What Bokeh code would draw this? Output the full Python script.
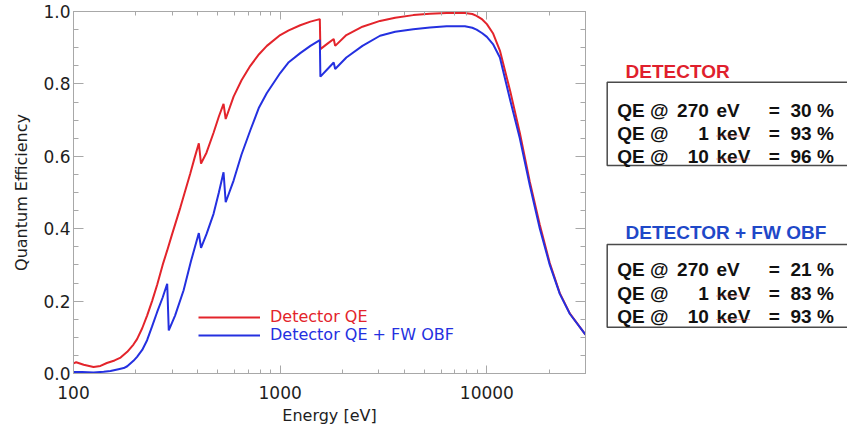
from bokeh.plotting import figure
from bokeh.models import (Range1d, LogAxis, LinearAxis, LogTicker, SingleIntervalTicker,
                          Legend, LegendItem, PrintfTickFormatter, CustomJSTickFormatter)
from bokeh.layouts import row
from bokeh.embed import file_html
from bokeh.resources import INLINE
from bokeh.core.properties import value

# ---------------- data ----------------
energy_det = [100, 103, 112, 125, 135, 145, 158, 169, 182, 195, 203, 215, 227, 240, 254,
              270, 284, 300, 329, 367, 385, 404, 414, 440, 476, 505, 532, 545, 595, 650, 717,
              790, 862, 1000, 1100, 1250, 1400, 1555, 1565, 1700, 1815, 1845, 2090, 2500,
              3041, 3600, 4405, 5300, 6385, 7830, 8500, 8916, 9500, 10000, 10700, 11560,
              12970, 14430, 16130, 18040, 20150, 22530, 25180, 29740, 30000]
qe_det = [0.028, 0.031, 0.024, 0.018, 0.021, 0.029, 0.036, 0.044, 0.060, 0.080, 0.095, 0.125,
          0.160, 0.200, 0.245, 0.300, 0.340, 0.385, 0.459, 0.552, 0.595, 0.636, 0.580, 0.610,
          0.665, 0.710, 0.745, 0.703, 0.765, 0.810, 0.850, 0.882, 0.905, 0.935, 0.948, 0.962,
          0.972, 0.979, 0.896, 0.912, 0.924, 0.905, 0.935, 0.958, 0.974, 0.983, 0.990, 0.994,
          0.996, 0.996, 0.993, 0.988, 0.978, 0.965, 0.940, 0.892, 0.780, 0.665, 0.530, 0.410,
          0.305, 0.222, 0.166, 0.110, 0.108]

energy_obf = [100, 110, 125, 140, 151, 165, 175, 182, 195, 203, 215, 227, 240, 254, 270, 284,
              289, 310, 341, 370, 404, 414, 440, 476, 505, 532, 545, 595, 650, 717, 790, 862,
              1000, 1100, 1250, 1400, 1555, 1565, 1700, 1815, 1845, 2090, 2500, 3041, 3600,
              4405, 5300, 6385, 7830, 8500, 8916, 9500, 10000, 10700, 11560, 12970, 14430,
              16130, 18040, 20150, 22530, 25180, 29740, 30000]
qe_obf = [0.004, 0.004, 0.003, 0.005, 0.007, 0.012, 0.015, 0.020, 0.035, 0.046, 0.065, 0.092,
          0.130, 0.170, 0.210, 0.248, 0.119, 0.160, 0.230, 0.310, 0.388, 0.347, 0.385, 0.441,
          0.500, 0.556, 0.473, 0.533, 0.605, 0.672, 0.735, 0.775, 0.830, 0.860, 0.885, 0.905,
          0.921, 0.820, 0.842, 0.859, 0.841, 0.873, 0.905, 0.933, 0.944, 0.951, 0.956, 0.959,
          0.959, 0.955, 0.950, 0.940, 0.930, 0.910, 0.873, 0.755, 0.650, 0.520, 0.400, 0.300,
          0.220, 0.165, 0.110, 0.108]

series_labels = ["Detector QE", "Detector QE + FW OBF"]

table_titles = ["DETECTOR", "DETECTOR + FW OBF"]
row_values = ["270", "1", "10"]
row_units = ["eV", "keV", "keV"]
pct_detector = ["30 %", "93 %", "96 %"]
pct_obf = ["21 %", "83 %", "93 %"]

RED = "#e3242b"
BLUE = "#2430e0"
TITLE_RED = "#e01f2d"
TITLE_BLUE = "#1f48c8"
AXIS_GRAY = "#a8a8a8"
TEXT_DARK = "#1e1e1e"

BORDER_TOP, BORDER_BOTTOM = 11, 54
TOTAL_H = 427

# ---------------- main plot ----------------
p = figure(width=600, height=TOTAL_H, x_axis_type="log",
           x_range=Range1d(100, 30000), y_range=Range1d(0, 1.0),
           output_backend="svg", toolbar_location=None,
           min_border_left=73, min_border_right=15,
           min_border_top=BORDER_TOP, min_border_bottom=BORDER_BOTTOM,
           x_axis_label="Energy [eV]", y_axis_label="Quantum Efficiency")
p.xgrid.visible = False
p.ygrid.visible = False
p.outline_line_color = AXIS_GRAY
p.background_fill_color = "white"
p.border_fill_color = "white"

p.xaxis.ticker = LogTicker(num_minor_ticks=10)
p.xaxis.formatter = PrintfTickFormatter(format="%d")
p.yaxis.ticker = SingleIntervalTicker(interval=0.2, num_minor_ticks=4)
p.yaxis.formatter = PrintfTickFormatter(format="%.1f")


def style_axis(ax, major_in, minor_in):
    ax.axis_line_color = AXIS_GRAY
    ax.major_tick_line_color = AXIS_GRAY
    ax.minor_tick_line_color = AXIS_GRAY
    ax.major_tick_in = major_in
    ax.major_tick_out = 0
    ax.minor_tick_in = minor_in
    ax.minor_tick_out = 0
    ax.major_label_text_font = "DejaVu Sans"
    ax.major_label_text_font_size = "17px"
    ax.major_label_text_color = TEXT_DARK
    ax.axis_label_text_font = "DejaVu Sans"
    ax.axis_label_text_font_size = "16px"
    ax.axis_label_text_font_style = "normal"
    ax.axis_label_text_color = TEXT_DARK


for ax in p.xaxis:
    style_axis(ax, 8, 4)
    ax.major_label_standoff = 12
    ax.axis_label_standoff = 4
for ax in p.yaxis:
    style_axis(ax, 10, 5)
    ax.major_label_standoff = 3
    ax.axis_label_standoff = 9

blank = CustomJSTickFormatter(code="return '';")

top_axis = LogAxis(ticker=LogTicker(num_minor_ticks=10), formatter=blank)
style_axis(top_axis, 8, 4)
top_axis.major_label_standoff = 0
p.add_layout(top_axis, "above")

right_axis = LinearAxis(ticker=SingleIntervalTicker(interval=0.2, num_minor_ticks=4), formatter=blank)
style_axis(right_axis, 10, 5)
right_axis.major_label_standoff = 0
p.add_layout(right_axis, "right")

r_det = p.line(energy_det, qe_det, line_color=RED, line_width=2)
r_obf = p.line(energy_obf, qe_obf, line_color=BLUE, line_width=2)


def make_legend(label, renderer, color, loc):
    return Legend(items=[LegendItem(label=label, renderers=[renderer])], location=loc,
                  label_text_font="DejaVu Sans", label_text_font_size="16px",
                  label_text_color=color, glyph_width=62, glyph_height=18, label_height=18,
                  label_standoff=10, padding=0, margin=0, spacing=0,
                  border_line_alpha=0, background_fill_alpha=0)


p.add_layout(make_legend(series_labels[0], r_det, RED, (125, 47)))
p.add_layout(make_legend(series_labels[1], r_obf, BLUE, (125, 29)))

# ---------------- right-hand text tables ----------------
# coordinates of this panel are page pixels (x offset by the main plot width)
W2 = 247
t = figure(width=W2, height=TOTAL_H, x_range=Range1d(0, W2),
           y_range=Range1d(TOTAL_H - BORDER_BOTTOM, BORDER_TOP),
           output_backend="svg", toolbar_location=None,
           x_axis_location=None, y_axis_location=None,
           min_border_left=0, min_border_right=0,
           min_border_top=BORDER_TOP, min_border_bottom=BORDER_BOTTOM)
t.grid.visible = False
t.outline_line_color = None
t.background_fill_color = "white"
t.border_fill_color = "white"

box_left, box_right = 6.7, 262
box_tops = [81.7, 244]
box_bottoms = [165, 326.7]
t.quad(left=[box_left, box_left], right=[box_right, box_right], top=box_tops, bottom=box_bottoms,
       fill_alpha=0, line_color="#4a4a4a", line_width=1.5)

font = value("Liberation Sans")
title_y = [70.7, 231.5]
t.text(x=[25, 25], y=title_y, text=table_titles, text_color=[TITLE_RED, TITLE_BLUE],
       text_font=font, text_font_style="bold", text_font_size="19px",
       text_align="left", text_baseline="alphabetic")

row_baselines = [[109.5, 132.5, 155.5], [268.5, 292.5, 316.0]]
for ys, pcts in zip(row_baselines, [pct_detector, pct_obf]):
    common = dict(text_font=font, text_font_style="bold", text_font_size="19px",
                  text_baseline="alphabetic", text_color="#111111")
    t.text(x=[16.7] * 3, y=ys, text=["QE @"] * 3, text_align="left", **common)
    t.text(x=[108.3] * 3, y=ys, text=row_values, text_align="right", **common)
    t.text(x=[116] * 3, y=ys, text=row_units, text_align="left", **common)
    t.text(x=[168.3] * 3, y=ys, text=["="] * 3, text_align="left", **common)
    t.text(x=[190] * 3, y=ys, text=pcts, text_align="left", **common)
    # spell-check style underline under "keV"
    t.multi_line(xs=[[116, 150], [116, 150]], ys=[[ys[1] + 3, ys[1] + 3], [ys[2] + 3, ys[2] + 3]],
                 line_color="#e04040", line_width=1.2, line_dash="1 1", line_alpha=0.8)

layout = row(p, t)
open("out.html", "w").write(file_html(layout, INLINE))
